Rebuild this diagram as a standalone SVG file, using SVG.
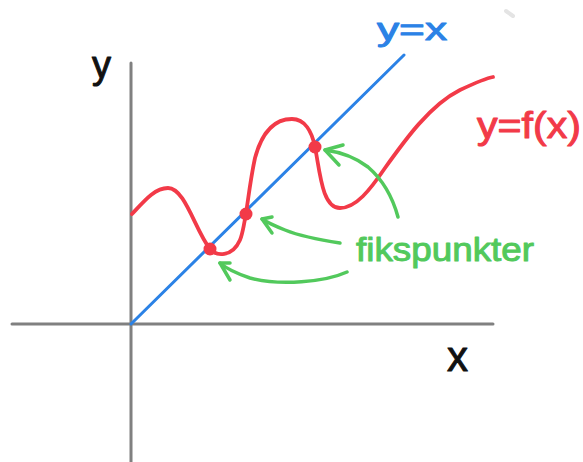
<svg xmlns="http://www.w3.org/2000/svg" width="583" height="462" viewBox="0 0 583 462">
<style>
.axis{stroke:#808080;stroke-width:3;fill:none;stroke-linecap:round}
.blue{stroke:#2b82e6;stroke-width:3;fill:none;stroke-linecap:round}
.red{stroke:#f23a48;stroke-width:3.8;fill:none;stroke-linecap:round;stroke-linejoin:round}
.green{stroke:#52c95c;stroke-width:3.5;fill:none;stroke-linecap:round;stroke-linejoin:round}
.dot{fill:#f23a48}
.lbl{font-family:"Liberation Sans",Arial,sans-serif;stroke-width:1;stroke-linejoin:round}
</style>
<rect width="583" height="462" fill="#ffffff"/>
<g id="axes">
<line class="axis" x1="131" y1="63" x2="131" y2="462"/>
<line class="axis" x1="12" y1="324" x2="493" y2="324"/>
<line x1="506" y1="11" x2="513" y2="16" stroke="#e4e4e4" stroke-width="4" stroke-linecap="round"/>
</g>
<g id="line-yx">
<line class="blue" x1="131" y1="324" x2="404" y2="55"/>
</g>
<g id="curve-fx">
<path class="red" d="M132,214 C145,200 155,188 168,188 C185,188 195,230 210,249 C216,256 232,258 240,240 C246,226 248,190 255,158 C262,132 274,119 292,119 C305,119 312,132 315,147 C320,172 322,208 340,208 C356,208 370,190 385,168 C405,140 430,105 460,90 C475,83 487,78 493,77"/>
</g>
<g id="fixed-points">
<circle class="dot" cx="210" cy="249" r="6.5"/>
<circle class="dot" cx="246" cy="214" r="6.5"/>
<circle class="dot" cx="315" cy="147" r="6.5"/>
</g>
<g id="connectors">
<path class="green" d="M347,272 C325,282 280,286 250,278 C238,274 228,270 220,263"/>
<path class="green" d="M230,263 L220,263 L230,280"/>
<path class="green" d="M340,243 C320,240 300,236 285,230 C275,226 268,223 262,219"/>
<path class="green" d="M272,217 L262,219 L272,233"/>
<path class="green" d="M398,217 C392,195 383,180 368,167 C355,157 340,152 325,150"/>
<path class="green" d="M343,145 L325,150 L339,165"/>
</g>
<g id="labels">
<text class="lbl" x="92" y="78" font-size="38" fill="#111111" stroke="#111111">y</text>
<text class="lbl" x="447" y="371" font-size="42" fill="#111111" stroke="#111111">x</text>
<text class="lbl" x="377" y="40" font-size="32" fill="#2b82e6" stroke="#2b82e6" textLength="70" lengthAdjust="spacingAndGlyphs">y=x</text>
<text class="lbl" x="477" y="138" font-size="36" fill="#f23a48" stroke="#f23a48" textLength="104" lengthAdjust="spacingAndGlyphs">y=f(x)</text>
<text class="lbl" x="356" y="261" font-size="34" fill="#52c95c" stroke="#52c95c" textLength="178" lengthAdjust="spacingAndGlyphs">fikspunkter</text>
</g>
</svg>
